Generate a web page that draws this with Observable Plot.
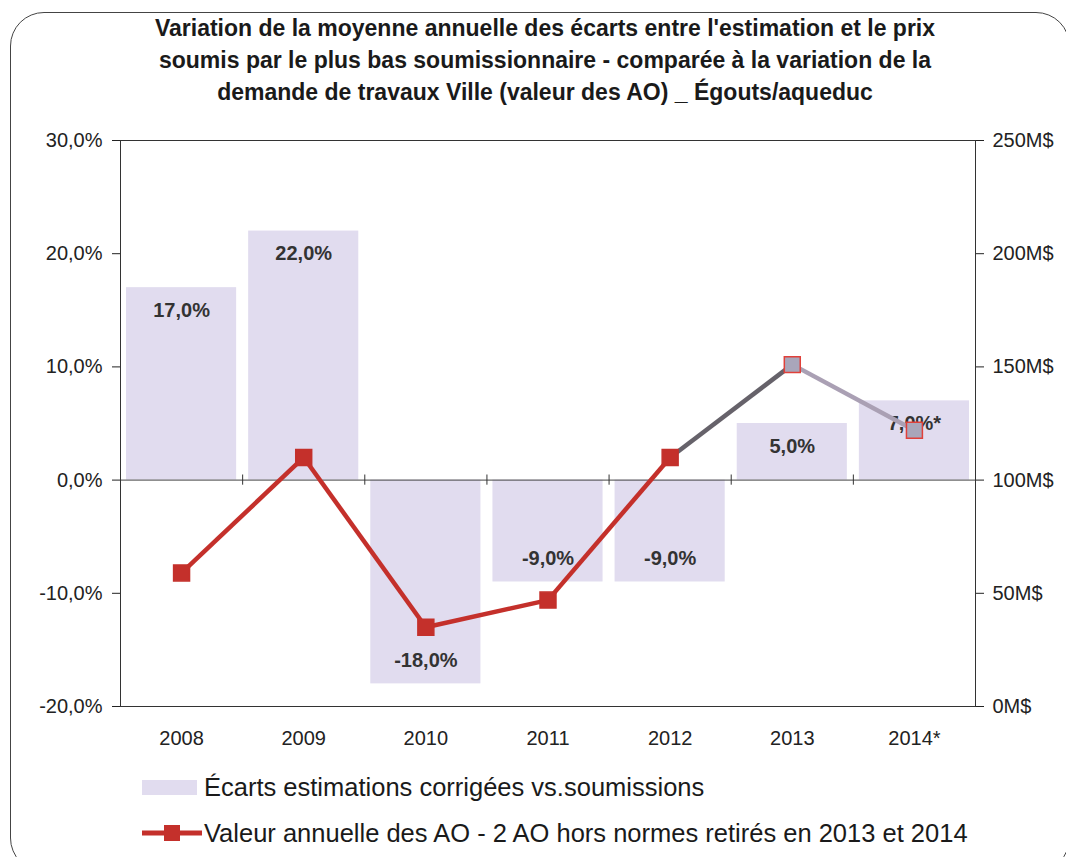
<!DOCTYPE html>
<html>
<head>
<meta charset="utf-8">
<script src="https://cdn.jsdelivr.net/npm/d3@7"></script>
<script src="https://cdn.jsdelivr.net/npm/@observablehq/plot@0.6"></script>
<style>
  html, body { margin: 0; padding: 0; background: #fff; }
  #wrap { position: relative; width: 1066px; height: 857px; overflow: hidden; font-family: "Liberation Sans", Arial, sans-serif; color: #222; }
  #border { position: absolute; left: 10px; top: 12px; width: 1060px; height: 860px; border: 1.5px solid #444; border-radius: 34px; box-sizing: border-box; }
  #title { position: absolute; left: 12px; top: 12px; width: 1066px; text-align: center; font-weight: bold; font-size: 23px; line-height: 32px; color: #1a1a1a; }
  #chart { position: absolute; left: 0; top: 120px; }
  .leg { position: absolute; left: 204px; font-size: 25.5px; line-height: 28px; color: #1a1a1a; white-space: nowrap; }
</style>
</head>
<body>
<div id="wrap">
  <div id="border"></div>
  <div id="title">Variation de la moyenne annuelle des écarts entre l'estimation et le prix<br>soumis par le plus bas soumissionnaire - comparée à la variation de la<br>demande de travaux Ville (valeur des AO) _ Égouts/aqueduc</div>
  <div id="chart"></div>
  <div id="leg1sw" style="position:absolute;left:142px;top:780px;width:55px;height:15px;background:#e1dcef;"></div>
  <div class="leg" style="top:773px;">Écarts estimations corrigées vs.soumissions</div>
  <svg style="position:absolute;left:140px;top:820px;" width="64" height="26">
    <line x1="2" y1="13" x2="62" y2="13" stroke="#c4302b" stroke-width="5"/>
    <rect x="24" y="5" width="16" height="16" fill="#c4302b"/>
  </svg>
  <div class="leg" style="top:819px;">Valeur annuelle des AO - 2 AO hors normes retirés en 2013 et 2014</div>
</div>
<script>
// ---- data ----
const years = [2008, 2009, 2010, 2011, 2012, 2013, 2014];
const xLabels = ["2008", "2009", "2010", "2011", "2012", "2013", "2014*"];
const ecarts = [17, 22, -18, -9, -9, 5, 7];                 // % (left axis)
const valeurAO = [59, 110, 35, 47, 110, 151, 122];          // M$ (right axis)
const leftTicks = [-20, -10, 0, 10, 20, 30];
const rightTicks = [0, 50, 100, 150, 200, 250];
const segColors = ["#c4302b", "#c4302b", "#c4302b", "#c4302b", "#66626a", "#aaa0b4"];
const markerFill = ["#c4302b", "#c4302b", "#c4302b", "#c4302b", "#c4302b", "#a9a6ba", "#a9a6ba"];
const markerStroke = ["#c4302b", "#c4302b", "#c4302b", "#c4302b", "#c4302b", "#e0403a", "#e0403a"];

// right axis (0..250 M$) mapped onto left axis (-20..30 %)
const toPct = v => v / 250 * 50 - 20;
const fmtPct = v => v.toFixed(1).replace(".", ",") + "%";

const bars = years.map((y, i) => ({year: y, pct: ecarts[i], label: fmtPct(ecarts[i]) + (y === 2014 ? "*" : "")}));
const pts = years.map((y, i) => ({year: y, v: valeurAO[i], fill: markerFill[i], stroke: markerStroke[i]}));
const segs = years.slice(1).map((y, i) => ({x1: years[i], x2: y, v1: valeurAO[i], v2: valeurAO[i + 1], color: segColors[i]}));
const bounds = years.map(y => y - 0.5).concat([years[years.length - 1] + 0.5]);

const chart = Plot.plot({
  width: 1066,
  height: 631,
  marginLeft: 120,
  marginRight: 91,
  marginTop: 20,
  marginBottom: 45,
  style: {fontFamily: "'Liberation Sans', Arial, sans-serif", fontSize: "20px", color: "#222", background: "transparent"},
  x: {domain: [2007.5, 2014.5]},
  y: {domain: [-20, 30]},
  marks: [
    Plot.rectY(bars, {x1: d => d.year - 0.5, x2: d => d.year + 0.5, y: "pct", insetLeft: 6, insetRight: 6, fill: "#e1dcef"}),
    Plot.frame({stroke: "#333"}),
    Plot.ruleY([0], {stroke: "#444"}),
    Plot.ruleX(bounds, {y1: -0.45, y2: 0.45, stroke: "#333"}),
    Plot.axisY({anchor: "left", ticks: leftTicks, tickFormat: fmtPct, tickSize: 8, tickPadding: 10, label: null, fontSize: 20}),
    Plot.axisY({anchor: "right", ticks: rightTicks.map(toPct), tickFormat: (d, i) => rightTicks[i] + "M$", tickSize: 8, tickPadding: 9, label: null, fontSize: 20}),
    Plot.axisX({anchor: "bottom", ticks: years, tickFormat: (d, i) => xLabels[i], tickSize: 0, tickPadding: 24, label: null, fontSize: 20}),
    Plot.text(bars.filter(d => d.pct >= 0), {x: "year", y: "pct", text: "label", dy: 23, fontWeight: "bold", fontSize: 20, fill: "#333"}),
    Plot.text(bars.filter(d => d.pct < 0), {x: "year", y: "pct", text: "label", dy: -23, fontWeight: "bold", fontSize: 20, fill: "#333"}),
    Plot.link(segs, {x1: "x1", x2: "x2", y1: d => toPct(d.v1), y2: d => toPct(d.v2), stroke: d => d.color, strokeWidth: 4.5}),
    Plot.dot(pts, {x: "year", y: d => toPct(d.v), symbol: "square", r: 9, fill: d => d.fill, stroke: d => d.stroke, strokeWidth: 1.5})
  ]
});
document.getElementById("chart").appendChild(chart);
</script>
</body>
</html>
